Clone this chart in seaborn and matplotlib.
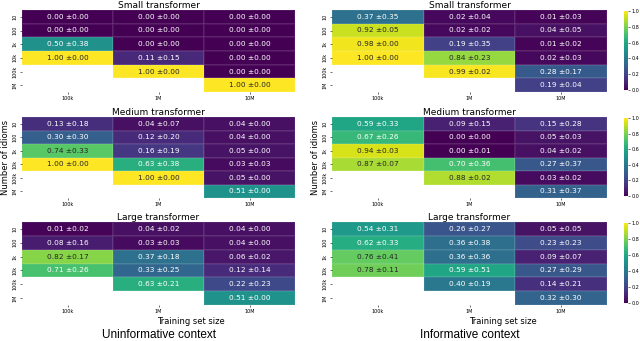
import numpy as np
import pandas as pd
import matplotlib
matplotlib.use('Agg')
import matplotlib.pyplot as plt
import seaborn as sns

# rows = number of idioms, columns = training set size
idioms = ['10', '100', '1k', '10k', '100k', '1M']
train_sizes = ['100k', '1M', '10M']
nan = np.nan

# uninformative context: means / std
unif_small_mean = [[0.00, 0.00, 0.00], [0.00, 0.00, 0.00], [0.50, 0.00, 0.00],
                   [1.00, 0.11, 0.00], [nan, 1.00, 0.00], [nan, nan, 1.00]]
unif_small_std = [[0.00, 0.00, 0.00], [0.00, 0.00, 0.00], [0.38, 0.00, 0.00],
                  [0.00, 0.15, 0.00], [nan, 0.00, 0.00], [nan, nan, 0.00]]
unif_medium_mean = [[0.13, 0.04, 0.04], [0.30, 0.12, 0.04], [0.74, 0.16, 0.05],
                    [1.00, 0.63, 0.03], [nan, 1.00, 0.05], [nan, nan, 0.51]]
unif_medium_std = [[0.18, 0.07, 0.00], [0.30, 0.20, 0.00], [0.33, 0.19, 0.00],
                   [0.00, 0.38, 0.03], [nan, 0.00, 0.00], [nan, nan, 0.00]]
unif_large_mean = [[0.01, 0.04, 0.04], [0.08, 0.03, 0.04], [0.82, 0.37, 0.06],
                   [0.71, 0.33, 0.12], [nan, 0.63, 0.22], [nan, nan, 0.51]]
unif_large_std = [[0.02, 0.02, 0.00], [0.16, 0.03, 0.00], [0.17, 0.18, 0.02],
                  [0.26, 0.25, 0.14], [nan, 0.21, 0.23], [nan, nan, 0.00]]

# informative context
inf_small_mean = [[0.37, 0.02, 0.01], [0.92, 0.02, 0.04], [0.98, 0.19, 0.01],
                  [1.00, 0.84, 0.02], [nan, 0.99, 0.28], [nan, nan, 0.19]]
inf_small_std = [[0.35, 0.04, 0.03], [0.05, 0.02, 0.05], [0.00, 0.35, 0.02],
                 [0.00, 0.23, 0.03], [nan, 0.02, 0.17], [nan, nan, 0.04]]
inf_medium_mean = [[0.59, 0.09, 0.15], [0.67, 0.00, 0.05], [0.94, 0.00, 0.04],
                   [0.87, 0.70, 0.27], [nan, 0.88, 0.03], [nan, nan, 0.31]]
inf_medium_std = [[0.33, 0.15, 0.28], [0.26, 0.00, 0.03], [0.03, 0.01, 0.02],
                  [0.07, 0.36, 0.37], [nan, 0.02, 0.02], [nan, nan, 0.37]]
inf_large_mean = [[0.54, 0.26, 0.05], [0.62, 0.36, 0.23], [0.76, 0.36, 0.09],
                  [0.78, 0.59, 0.27], [nan, 0.40, 0.14], [nan, nan, 0.32]]
inf_large_std = [[0.31, 0.27, 0.05], [0.33, 0.38, 0.23], [0.41, 0.36, 0.07],
                 [0.11, 0.51, 0.29], [nan, 0.19, 0.21], [nan, nan, 0.30]]

models = ['Small transformer', 'Medium transformer', 'Large transformer']
panels = {
    0: [(unif_small_mean, unif_small_std), (unif_medium_mean, unif_medium_std),
        (unif_large_mean, unif_large_std)],
    1: [(inf_small_mean, inf_small_std), (inf_medium_mean, inf_medium_std),
        (inf_large_mean, inf_large_std)],
}
captions = ['Uninformative context', 'Informative context']

W, H = 640, 341
fig = plt.figure(figsize=(6.4, 3.41), dpi=100)

col_x = [(22, 295), (332, 607)]
row_y = [(10, 92), (117, 198), (222, 305)]

def box(x0, x1, y0, y1):
    return [x0 / W, 1 - y1 / H, (x1 - x0) / W, (y1 - y0) / H]

for c in range(2):
    for r in range(3):
        mean, std = panels[c][r]
        m = pd.DataFrame(mean, index=idioms, columns=train_sizes)
        labels = np.array([[f'{a:.2f} ±{b:.2f}' if not np.isnan(a) else ''
                            for a, b in zip(ra, rb)] for ra, rb in zip(mean, std)])
        ax = fig.add_axes(box(*col_x[c], *row_y[r]))
        kw = dict(cbar=False)
        if c == 1:
            cax = fig.add_axes(box(624, 628, row_y[r][0] + 1, row_y[r][1] - 2))
            kw = dict(cbar=True, cbar_ax=cax)
        sns.heatmap(m, ax=ax, cmap='viridis', vmin=0, vmax=1, annot=labels, fmt='',
                    annot_kws={'fontsize': 5.3}, linewidths=0.3,
                    linecolor=(1, 1, 1, 0.07),
                    xticklabels=train_sizes, yticklabels=idioms, **kw)
        if c == 1:
            cax.tick_params(labelsize=3.5, length=1.5, width=0.4, pad=1)
            cax.set_yticks([0, 0.2, 0.4, 0.6, 0.8, 1.0])
            cax.set_yticklabels(['0.0', '0.2', '0.4', '0.6', '0.8', '1.0'])
            for sp in cax.spines.values():
                sp.set_visible(False)
        ax.set_title(models[r], fontsize=6.5, pad=1.5)
        ax.tick_params(labelsize=3.5, length=1.5, width=0.4, pad=1.5)
        ax.tick_params(axis='y', labelrotation=90)
        ax.tick_params(axis='x', labelrotation=0)
        for t in ax.get_yticklabels():
            t.set_va('center')
        if r == 1:
            ax.set_ylabel('Number of idioms', fontsize=6)
            ax.yaxis.set_label_coords(-0.045, 0.5)
        if r == 2:
            ax.set_xlabel('Training set size', fontsize=6)
            ax.xaxis.set_label_coords(0.62, -0.14)
    cx = (col_x[c][0] + col_x[c][1]) / 2 / W
    fig.text(cx, 1 - 335.5 / H, captions[c], ha='center', va='center',
             fontsize=8.5, family=['Liberation Sans', 'DejaVu Sans'])

fig.savefig('out.png', dpi=100)
